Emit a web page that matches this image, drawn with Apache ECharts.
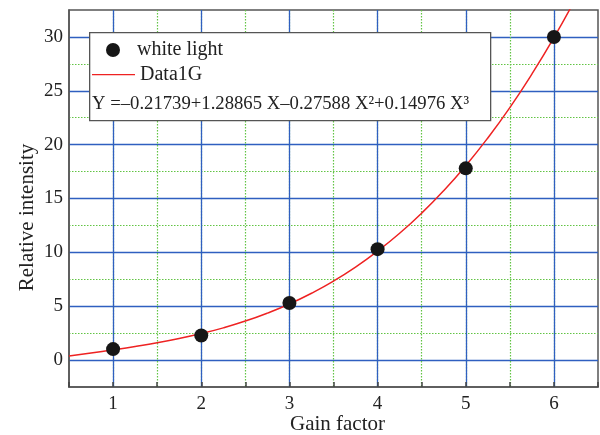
<!DOCTYPE html>
<html><head><meta charset="utf-8">
<script src="https://cdn.jsdelivr.net/npm/echarts@6/dist/echarts.min.js"></script>
<style>html,body{margin:0;padding:0;background:#fff}#c{width:600px;height:435px}</style>
</head><body><div id="c"></div>
<script>
// measured points
var pointX = [1, 2, 3, 4, 5, 6];
var pointY = [1.02, 2.28, 5.3, 10.3, 17.8, 30.0];
// fitted curve (Data1G)
var curveX = [0.5, 0.75, 1.0, 1.25, 1.5, 1.75, 2.0, 2.25, 2.5, 2.75, 3.0, 3.25, 3.5, 3.75, 4.0, 4.25, 4.5, 4.75, 5.0, 5.25, 5.5, 5.75, 6.0, 6.25];
var curveY = [0.38, 0.66, 0.95, 1.26, 1.60, 2.0, 2.46, 2.99, 3.62, 4.36, 5.21, 6.2, 7.33, 8.63, 10.11, 11.77, 13.64, 15.73, 18.05, 20.62, 23.44, 26.55, 29.93, 33.62];
var seriesNames = ['white light', 'Data1G'];
var equationText = 'Y =\u20130.21739+1.28865 X\u20130.27588 X\u00b2+0.14976 X\u00b3';
var xTitle = 'Gain factor';
var yTitle = 'Relative intensity';

var FONT = '"Liberation Serif", "Times New Roman", serif';
var BLUE = '#2f5fc0', GREEN = '#62c444', INK = '#222';

var chart = echarts.init(document.getElementById('c'));
chart.setOption({
  animation: false,
  backgroundColor: '#fff',
  grid: { left: 69, top: 10, right: 2, bottom: 48, containLabel: false, outerBoundsMode: 'none',
    show: true, borderColor: '#555', borderWidth: 1.5, backgroundColor: 'transparent' },
  xAxis: [
    { type: 'value', min: 0.5, max: 6.5, interval: 0.5,
      axisLine: { show: false }, axisTick: { show: false }, axisLabel: { show: false },
      splitLine: { show: true, showMinLine: false, showMaxLine: false, lineStyle: { color: GREEN, type: [1.5, 1.5], width: 1.2 } } },
    { type: 'value', min: 0.5, max: 6.5, interval: 0.5, position: 'bottom',
      name: xTitle, nameLocation: 'middle', nameGap: 27, nameMoveOverlap: false,
      nameTextStyle: { fontFamily: FONT, fontSize: 21, color: INK, padding: [0, 0, 0, 8] },
      axisLine: { show: true, onZero: false, lineStyle: { color: '#555', width: 1.5 } },
      axisTick: { show: true, inside: true, length: 5, lineStyle: { color: '#444', width: 1.5 } },
      axisLabel: { fontFamily: FONT, fontSize: 19, color: INK, margin: 8,
        formatter: function (v) { return Math.abs(v - Math.round(v)) < 1e-6 ? String(Math.round(v)) : ''; } },
      splitLine: { show: true, showMinLine: false, showMaxLine: false, lineStyle: { color: [BLUE, 'rgba(0,0,0,0)'], width: 1.3 } } }
  ],
  yAxis: [
    { type: 'value', min: -2.5, max: 32.5, interval: 2.5,
      axisLine: { show: false }, axisTick: { show: false }, axisLabel: { show: false },
      splitLine: { show: true, showMinLine: false, showMaxLine: false, lineStyle: { color: GREEN, type: [1.5, 1.5], width: 1.2 } } },
    { type: 'value', min: -2.5, max: 32.5, interval: 2.5, position: 'left',
      name: yTitle, nameLocation: 'middle', nameGap: 31, nameRotate: 90, nameMoveOverlap: false,
      nameTextStyle: { fontFamily: FONT, fontSize: 21, color: INK, padding: [0, 38, 0, 0] },
      axisLine: { show: true, onZero: false, lineStyle: { color: '#555', width: 1.5 } },
      axisTick: { show: false },
      axisLabel: { fontFamily: FONT, fontSize: 19, color: INK, margin: 6,
        formatter: function (v) { return Math.abs(v / 5 - Math.round(v / 5)) < 1e-6 ? String(Math.round(v)) : ''; } },
      splitLine: { show: true, showMinLine: false, showMaxLine: false, lineStyle: { color: [BLUE, 'rgba(0,0,0,0)'], width: 1.3 } } }
  ],
  series: [
    { name: seriesNames[1], type: 'line', xAxisIndex: 1, yAxisIndex: 1, smooth: true, symbol: 'none', clip: true,
      lineStyle: { color: '#ee2222', width: 1.5 }, z: 3,
      data: curveX.map(function (x, i) { return [x, curveY[i]]; }) },
    { name: seriesNames[0], type: 'scatter', xAxisIndex: 1, yAxisIndex: 1, symbol: 'circle', symbolSize: 14,
      itemStyle: { color: '#161616', opacity: 1 }, z: 4,
      data: pointX.map(function (x, i) { return [x, pointY[i]]; }) }
  ],
  graphic: {
    elements: [
      { type: 'rect', left: 89, top: 32, z: 100, shape: { width: 401, height: 88 }, style: { fill: '#ffffff', stroke: '#555', lineWidth: 1.3 } },
      { type: 'circle', left: 106, top: 43, z: 101, shape: { r: 7 }, style: { fill: '#161616' } },
      { type: 'text', left: 137, top: 40, z: 101, style: { text: seriesNames[0], font: '20px ' + FONT, fill: INK } },
      { type: 'rect', left: 92, top: 74, z: 101, shape: { width: 43, height: 1.3 }, style: { fill: '#ee2222' } },
      { type: 'text', left: 140, top: 65, z: 101, style: { text: seriesNames[1], font: '20px ' + FONT, fill: INK } },
      { type: 'text', left: 92, top: 95, z: 101, style: { text: equationText, font: '18.7px ' + FONT, fill: INK } }
    ]
  }
});
</script></body></html>
